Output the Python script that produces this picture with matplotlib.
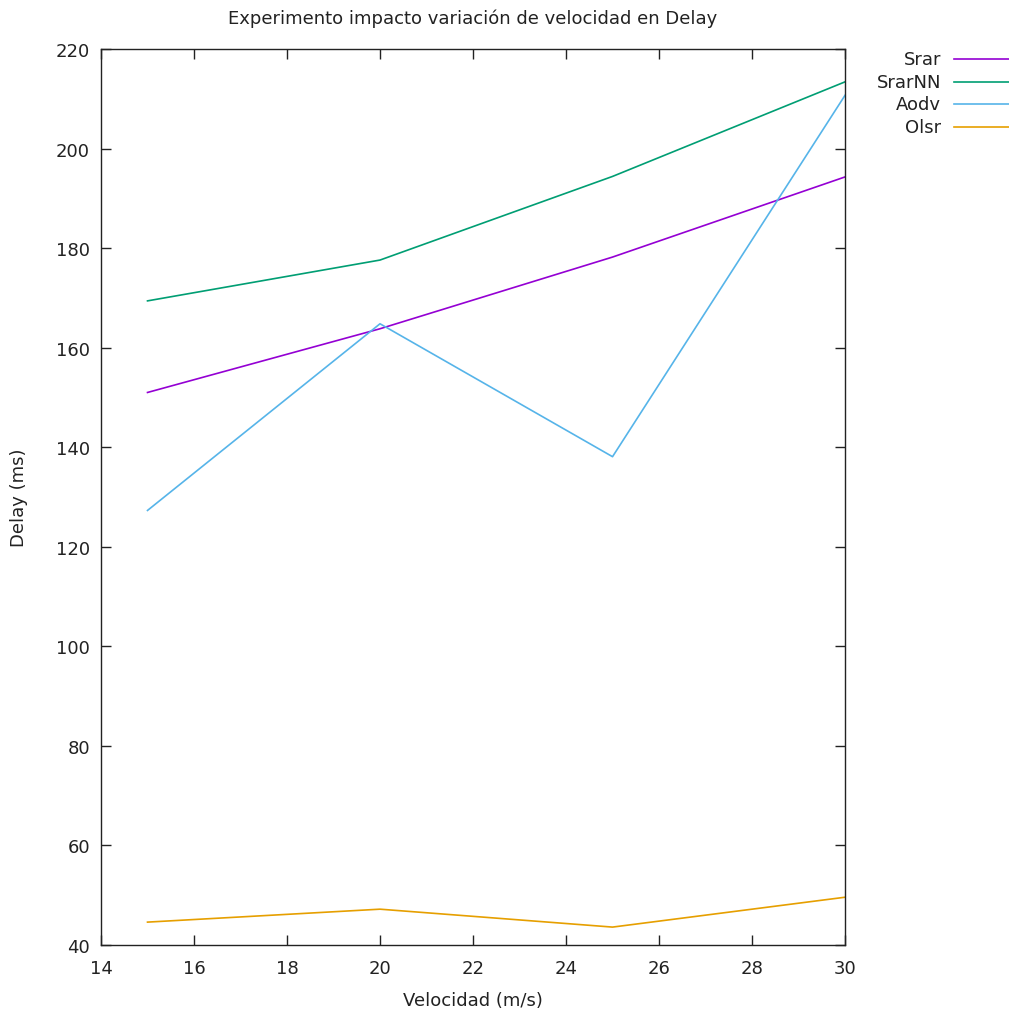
import matplotlib
matplotlib.use("Agg")
import matplotlib.pyplot as plt
from matplotlib.lines import Line2D

# Delay per protocol vs. node speed
velocidad = [15, 20, 25, 30]
srar = [151.0, 163.8, 178.2, 194.3]
srar_nn = [169.4, 177.6, 194.4, 213.4]
aodv = [127.3, 164.8, 138.1, 210.7]
olsr = [44.6, 47.2, 43.6, 49.6]

series_names = ["Srar", "SrarNN", "Aodv", "Olsr"]
series_colors = ["#9400d3", "#009e73", "#56b4e9", "#e69f00"]
series_values = [srar, srar_nn, aodv, olsr]

x_ticks = list(range(14, 31, 2))
y_ticks = list(range(40, 221, 20))

plt.rcParams["font.family"] = ["DejaVu Sans"]
fs = 13

fig = plt.figure(figsize=(10.09, 10.12), dpi=100)
ax = fig.add_axes([0.1001, 0.0652, 0.7374, 0.8854])

for name, color, vals in zip(series_names, series_colors, series_values):
    ax.plot(velocidad, vals, color=color, lw=1.2, label=name)

ax.set_xlim(14, 30)
ax.set_ylim(40, 220)
ax.set_xticks(x_ticks)
ax.set_yticks(y_ticks)
ax.tick_params(direction="in", length=7, width=1.0, top=True, right=True,
               labelsize=fs, colors="#222222", pad=8)
ax.tick_params(axis="x", pad=10)
for sp in ax.spines.values():
    sp.set_linewidth(1.0)
    sp.set_color("#222222")

ax.set_xlabel("Velocidad (m/s)", fontsize=fs, color="#222222", labelpad=10)
ax.set_ylabel("Delay (ms)", fontsize=fs, color="#222222", labelpad=20)
ax.set_title("Experimento impacto variación de velocidad en Delay",
             fontsize=fs, color="#222222", pad=19)

# key in the top-right corner, text right-aligned before each sample line
W, H = 1009, 1012
key_y = [60, 83, 105, 128]
for name, color, y in zip(series_names, series_colors, key_y):
    fig.text(941 / W, 1 - y / H, name, ha="right", va="center",
             fontsize=fs, color="#222222")
    fig.add_artist(Line2D([954 / W, 1.0], [1 - y / H, 1 - y / H],
                          transform=fig.transFigure, color=color, lw=1.2))

fig.savefig("out.png", dpi=100)
